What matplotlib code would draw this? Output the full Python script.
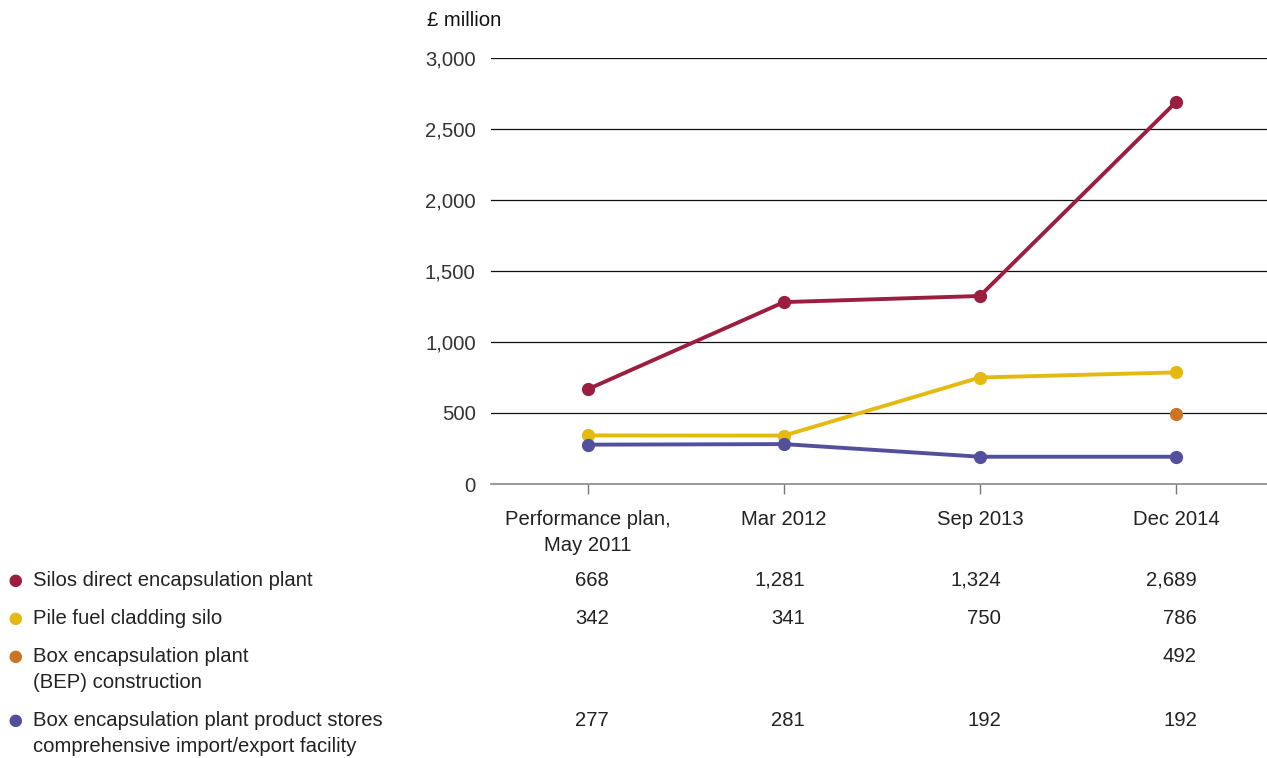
import matplotlib.pyplot as plt
import numpy as np

plt.rcParams['font.family'] = ['Liberation Sans', 'DejaVu Sans']

periods = ['Performance plan,\nMay 2011', 'Mar 2012', 'Sep 2013', 'Dec 2014']
series_names = [['Silos direct encapsulation plant'],
                ['Pile fuel cladding silo'],
                ['Box encapsulation plant', '(BEP) construction'],
                ['Box encapsulation plant product stores',
                 'comprehensive import/export facility']]
sdp = [668, 1281, 1324, 2689]
pfcs = [342, 341, 750, 786]
bep = [None, None, None, 492]
bepps = [277, 281, 192, 192]
colours = ['#9b1d3f', '#e3b912', '#cb7424', '#524f9c']
yticks = [0, 500, 1000, 1500, 2000, 2500, 3000]

W, H = 1267, 758
FS = 14.6
fig = plt.figure(figsize=(W / 100, H / 100), dpi=100)
ax = fig.add_axes([491 / W, 274 / H, 1 - 491 / W, (484 - 58) / H])

x = np.arange(len(periods))
for vals, c in zip([sdp, pfcs, bep, bepps], colours):
    xs = [i for i, v in enumerate(vals) if v is not None]
    ys = [v for v in vals if v is not None]
    ax.plot(xs, ys, color=c, lw=2.8, marker='o', ms=8.5, zorder=3,
            solid_capstyle='round')

ax.set_xlim(-0.495, 3.465)
ax.set_ylim(0, 3000)
ax.set_yticks(yticks)
ax.set_yticklabels([f'{v:,}' for v in yticks], fontsize=FS, color='#333333')
ax.tick_params(axis='y', length=0, pad=11)
ax.set_xticks(x)
ax.set_xticklabels(periods, fontsize=FS, color='#222222', linespacing=1.45)
ax.tick_params(axis='x', length=7, color='#777777', width=1, pad=12)
for v in yticks[1:]:
    ax.axhline(v, color='#111111', lw=0.9, zorder=1)
for s in ['left', 'right', 'top']:
    ax.spines[s].set_visible(False)
ax.spines['bottom'].set_color('#888888')
ax.spines['bottom'].set_linewidth(1.2)

fig.text(427 / W, 1 - 20 / H, '£ million', fontsize=FS, va='center', ha='left',
         color='#111111')

# data table beneath the chart
row_y = [578, 616, 654, 718]
line_gap = 27
for lines, vals, c, ry in zip(series_names, [sdp, pfcs, bep, bepps], colours, row_y):
    fy = 1 - ry / H
    fig.text(15 / W, fy, '●', color=c, fontsize=21, ha='center', va='center_baseline')
    for k, ln in enumerate(lines):
        fig.text(33 / W, 1 - (ry + k * line_gap) / H, ln, fontsize=FS,
                 color='#222222', ha='left', va='center_baseline')
    for i, v in enumerate(vals):
        if v is None:
            continue
        xr = ax.transData.transform((i, 0))[0] + 21
        fig.text(xr / W, fy, f'{v:,}', fontsize=FS, color='#222222',
                 ha='right', va='center_baseline')

fig.savefig('out.png', dpi=100)
